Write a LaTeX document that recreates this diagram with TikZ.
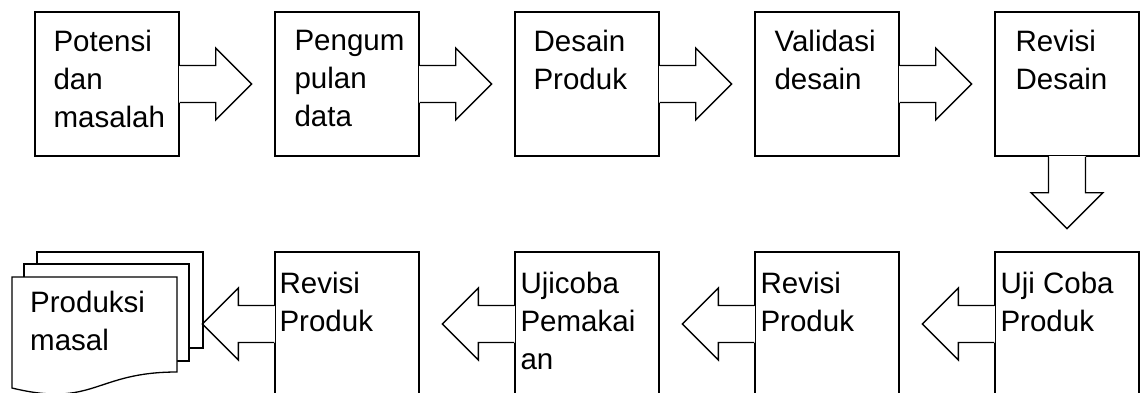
\documentclass[tikz,border=0pt]{standalone}
\usepackage{fontspec}
\setmainfont{Liberation Sans}
\usetikzlibrary{calc}
\tikzset{
  stage/.style = {draw, line width=1.3pt, fill=white, minimum width=144pt,
    minimum height=144pt, inner sep=0pt}
}
\tikzset{
  stage text/.style = {anchor=north west, align=left, inner sep=0pt,
    font=\fontsize{29.5}{38}\selectfont}
}
\tikzset{
  page/.style = {draw, line width=1.3pt, fill=white}
}
\tikzset{
  callout arrow/.pic = {
    \fill[white] (-1pt,-18.5pt) rectangle (36pt,18.5pt);
    \draw[line width=1.3pt, line join=miter]
      (0pt,-18.5pt) -- (36pt,-18.5pt) -- (36pt,-36pt) -- (72pt,0pt)
      -- (36pt,36pt) -- (36pt,18.5pt) -- (0pt,18.5pt);
  }
}

\begin{document}
\begin{tikzpicture}[x=1pt, y=-1pt]
  \useasboundingbox (0,0) rectangle (1141,392);
  \clip (0,0) rectangle (1141,392);

  % top row
  \node[stage] (potensi) at (107,84) {};
  \node[stage] (pengumpulan) at (347,84) {};
  \node[stage] (desain) at (587,84) {};
  \node[stage] (validasi) at (827,84) {};
  \node[stage] (revdesain) at (1067,84) {};

  % bottom row
  \node[stage] (ujicoba) at (1067,324) {};
  \node[stage] (revproduk) at (827,324) {};
  \node[stage] (pemakaian) at (587,324) {};
  \node[stage] (revakhir) at (347,324) {};

  % stacked pages
  \draw[page] (37,252) rectangle (203,348);
  \draw[page] (24,264) rectangle (189,361);
  \draw[page] (12,277) coordinate (masal) -- (177,277) -- (177,372)
    .. controls (94.5,372) and (94.5,408) .. (12,388) -- cycle;

  \node[stage text] (potensi text) at ($(potensi.north west)+(19,19)$)
    {Potensi\\dan\\masalah};
  \node[stage text] (pengumpulan text) at ($(pengumpulan.north west)+(20,19)$)
    {Pengum\\pulan\\data};
  \node[stage text] (desain text) at ($(desain.north west)+(19,19)$)
    {Desain\\Produk};
  \node[stage text] (validasi text) at ($(validasi.north west)+(20,19)$)
    {Validasi\\desain};
  \node[stage text] (revdesain text) at ($(revdesain.north west)+(21,19)$)
    {Revisi\\Desain};
  \node[stage text] (ujicoba text) at ($(ujicoba.north west)+(6,21)$)
    {Uji Coba\\Produk};
  \node[stage text] (revproduk text) at ($(revproduk.north west)+(6,21)$)
    {Revisi\\Produk};
  \node[stage text] (pemakaian text) at ($(pemakaian.north west)+(6,21)$)
    {Ujicoba\\Pemakai\\an};
  \node[stage text] (revakhir text) at ($(revakhir.north west)+(5,21)$)
    {Revisi\\Produk};
  \node[stage text] (masal text) at ($(masal)+(18,14)$)
    {Produksi\\masal};

  % arrows
  \pic at (potensi.east) {callout arrow};
  \pic at (pengumpulan.east) {callout arrow};
  \pic at (desain.east) {callout arrow};
  \pic at (validasi.east) {callout arrow};
  \pic[rotate=-90] at (revdesain.south) {callout arrow};
  \pic[rotate=180] at (ujicoba.west) {callout arrow};
  \pic[rotate=180] at (revproduk.west) {callout arrow};
  \pic[rotate=180] at (pemakaian.west) {callout arrow};
  \pic[rotate=180] at (revakhir.west) {callout arrow};
\end{tikzpicture}
\end{document}
